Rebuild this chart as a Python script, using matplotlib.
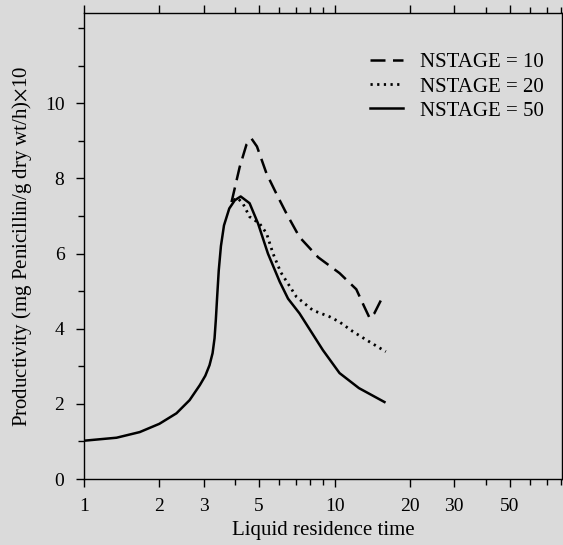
import matplotlib
matplotlib.use('Agg')
import matplotlib.pyplot as plt
from matplotlib.ticker import FixedLocator, FixedFormatter, NullFormatter

plt.rcParams['font.family'] = ['Liberation Serif', 'DejaVu Serif']
plt.rcParams['mathtext.fontset'] = 'stix'

# NSTAGE = 50 (solid)
x50 = [1.0, 1.35, 1.67, 2.0, 2.34, 2.64, 2.9, 3.05, 3.17, 3.26, 3.32, 3.36, 3.4,
       3.45, 3.52, 3.62, 3.8, 4.0, 4.22, 4.58, 4.95, 5.42, 6.04, 6.52, 7.24, 8.98,
       10.46, 12.5, 15.8]
y50 = [1.02, 1.1, 1.25, 1.47, 1.75, 2.1, 2.5, 2.75, 3.03, 3.35, 3.75, 4.25, 4.85,
       5.55, 6.2, 6.75, 7.2, 7.42, 7.52, 7.34, 6.8, 6.0, 5.25, 4.8, 4.41, 3.43,
       2.82, 2.42, 2.05]

# NSTAGE = 10 (dashed)
x10 = [3.88, 4.18, 4.45, 4.66, 4.9, 5.35, 5.9, 6.42, 7.24, 8.6, 10.46, 12.2, 13.1,
       13.8, 14.4, 15.3]
y10 = [7.37, 8.3, 8.9, 9.06, 8.85, 8.13, 7.55, 7.07, 6.44, 5.9, 5.48, 5.05, 4.6,
       4.28, 4.41, 4.76]

# NSTAGE = 20 (dotted)
x20 = [3.95, 4.1, 4.31, 4.58, 5.02, 5.35, 5.68, 6.1, 7.04, 8.19, 9.55, 10.46, 11.8,
       13.4, 16.0]
y20 = [7.42, 7.48, 7.33, 6.98, 6.8, 6.54, 6.0, 5.5, 4.85, 4.49, 4.32, 4.18, 3.93,
       3.70, 3.39]

xticks_major = [1, 2, 3, 5, 10, 20, 30, 50]
xticks_minor = [4, 6, 7, 8, 9, 40, 60, 70, 80]
yticks_major = [0, 2, 4, 6, 8, 10]
yticks_minor = [1, 3, 5, 7, 9, 11, 12]

bg = '#dadada'
fig = plt.figure(figsize=(5.63, 5.45), dpi=100, facecolor=bg)
ax = fig.add_axes([0.149, 0.121, 0.85, 0.855], facecolor=bg)

ax.plot(x10, y10, color='black', lw=1.8, dashes=(6, 3), label='NSTAGE = 10')
ax.plot(x20, y20, color='black', lw=2.0, dashes=(0.8, 1.6), label='NSTAGE = 20')
ax.plot(x50, y50, color='black', lw=1.8, label='NSTAGE = 50')

ax.set_xscale('log')
ax.set_xlim(1, 81)
ax.set_ylim(0, 12.4)

ax.xaxis.set_major_locator(FixedLocator(xticks_major))
ax.xaxis.set_major_formatter(FixedFormatter([str(v) for v in xticks_major]))
ax.xaxis.set_minor_locator(FixedLocator(xticks_minor))
ax.xaxis.set_minor_formatter(NullFormatter())
ax.yaxis.set_major_locator(FixedLocator(yticks_major))
ax.yaxis.set_minor_locator(FixedLocator(yticks_minor))

ax.tick_params(which='both', direction='out', top=True, right=False,
               labelsize=14, width=1.0)
ax.tick_params(which='major', length=6, pad=8)
ax.tick_params(which='minor', length=4)
for s in ax.spines.values():
    s.set_linewidth(1.0)

ax.set_xlabel('Liquid residence time', fontsize=15, labelpad=4)
ax.set_ylabel('Productivity (mg Penicillin/g dry wt/h)$\\times$10', fontsize=15,
              labelpad=8)

ax.legend(loc='upper right', bbox_to_anchor=(1.0, 0.955), frameon=False,
          fontsize=15, handlelength=1.6, handletextpad=0.8, labelspacing=0.22)

fig.savefig('out.png', dpi=100, facecolor=bg)
